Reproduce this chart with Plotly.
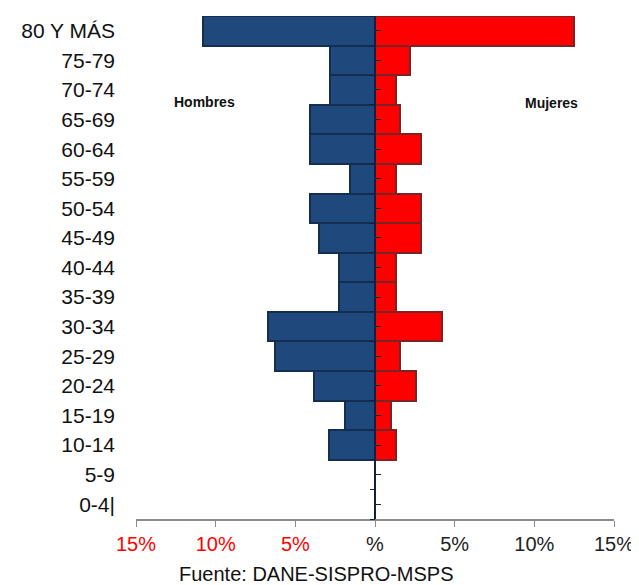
import plotly.graph_objects as go

ages = ["0-4|", "5-9", "10-14", "15-19", "20-24", "25-29", "30-34", "35-39",
        "40-44", "45-49", "50-54", "55-59", "60-64", "65-69", "70-74", "75-79", "80 Y MÁS"]
hombres = [0, 0, 2.9, 1.9, 3.8, 6.3, 6.7, 2.25, 2.25, 3.5, 4.1, 1.6, 4.1, 4.1, 2.8, 2.8, 10.8]
mujeres = [0, 0, 1.3, 1.0, 2.6, 1.6, 4.2, 1.3, 1.3, 2.9, 2.9, 1.3, 2.9, 1.6, 1.3, 2.2, 12.5]

tick_vals = [-15, -10, -5, 0, 5, 10, 15]
tick_text = ['<span style="color:#ff0000">15%</span>', '<span style="color:#ff0000">10%</span>',
             '<span style="color:#ff0000">5%</span>', '%', '5%', '10%', '15%']

n = len(ages)

# the page places the figure 8px from the top-left corner (default body margin)
W, H = 631, 577
L, R, T, B = 128, 25, 8, 66

fig = go.Figure()
fig.add_trace(go.Bar(y=ages, x=[-v for v in hombres], orientation="h", name="Hombres",
                     marker=dict(color="#1f497d", line=dict(color="#142e52", width=2))))
fig.add_trace(go.Bar(y=ages, x=mujeres, orientation="h", name="Mujeres",
                     marker=dict(color="#ff0000", line=dict(color="#7a2424", width=2))))
# centre axis trace (attaches the overlaid axis that carries the centre ticks)
fig.add_trace(go.Scatter(x=[0, 0], y=[-0.5, n - 0.5], yaxis="y2", mode="lines",
                         line=dict(color="#14213d", width=2), hoverinfo="skip"))

fig.update_layout(
    width=W, height=H,
    margin=dict(l=L, r=R, t=T, b=B),
    plot_bgcolor="white", paper_bgcolor="white",
    barmode="relative", bargap=0, showlegend=False,
    font=dict(family="Liberation Sans, Arial, sans-serif", color="#222222"),
    xaxis=dict(range=[-15, 15], tickvals=tick_vals, ticktext=tick_text, automargin=False,
               showgrid=False, zeroline=False, showline=True, linecolor="#8c8c8c", linewidth=1.5,
               ticks="outside", ticklen=6, tickcolor="#8c8c8c", tickfont=dict(size=20, color="#222222")),
    yaxis=dict(type="category", categoryorder="array", categoryarray=ages, range=[-0.5, n - 0.5],
               showgrid=False, zeroline=False, showline=False, ticks="", automargin=False,
               ticklabelstandoff=20, tickfont=dict(size=21, color="#111111")),
    yaxis2=dict(overlaying="y", anchor="free", position=0.5, range=[-0.5, n - 0.5], automargin=False,
                showgrid=False, zeroline=False, showline=False,
                tickvals=[i - 0.5 for i in range(n + 1)], ticks="outside", ticklen=5,
                tickcolor="#14213d", showticklabels=False, layer="above traces",
                minor=dict(tickvals=list(range(n)), ticks="inside", ticklen=5, tickcolor="#14213d")),
    annotations=[
        dict(text="<b>Hombres</b>", x=204, y=102, xref="paper", yref="paper", showarrow=False,
             xanchor="center", yanchor="middle", font=dict(size=14, color="#111111")),
        dict(text="<b>Mujeres</b>", x=551, y=103, xref="paper", yref="paper", showarrow=False,
             xanchor="center", yanchor="middle", font=dict(size=14, color="#111111")),
        dict(text="Fuente: DANE-SISPRO-MSPS", x=316, y=574, xref="paper", yref="paper",
             showarrow=False, xanchor="center", yanchor="middle", font=dict(size=20, color="#111111")),
    ],
)

# convert reference-pixel positions of annotations into paper coordinates
pw = W - L - R
ph = H - T - B
for a in fig.layout.annotations:
    a.x = (a.x - 8 - L) / pw
    a.y = (H - B - (a.y - 8)) / ph

fig.write_html("out.html")
